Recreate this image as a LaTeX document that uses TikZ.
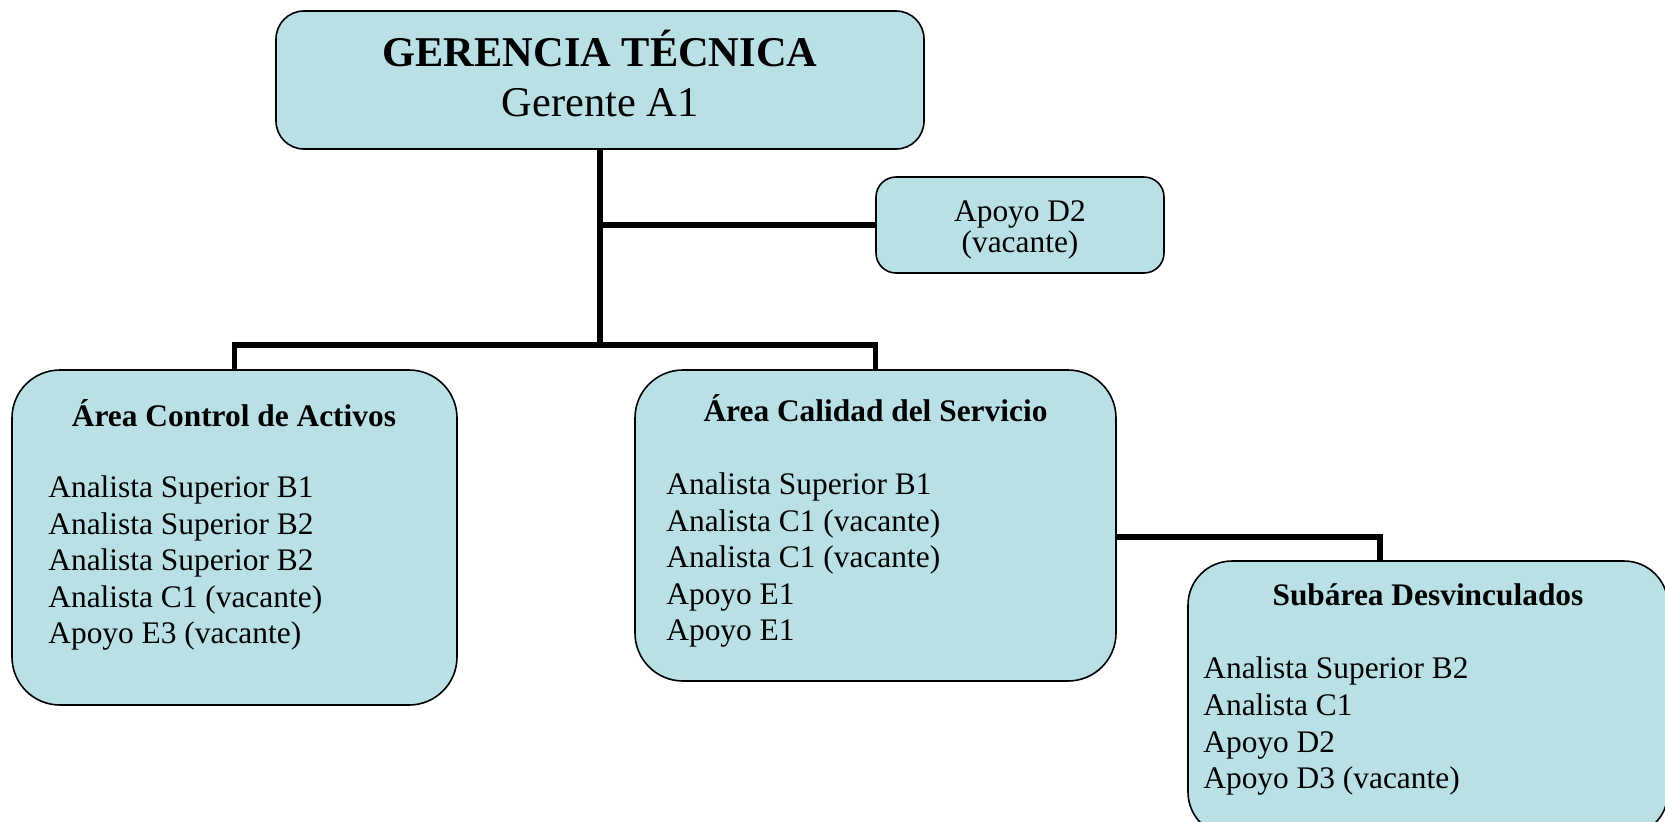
\documentclass[tikz,border=0pt]{standalone}
\usepackage{fontspec}
\setmainfont{Liberation Serif}
\usetikzlibrary{calc}
\definecolor{boxfill}{RGB}{185,224,228}
\begin{document}
\begin{tikzpicture}[x=0.5pt,y=-0.5pt,
  box/.style={draw=black, line width=0.8pt, fill=boxfill, rounded corners=#1, inner sep=0pt, rectangle},
  conn/.style={line width=2.85pt, line join=miter, draw=black},
  body/.style={font=\fontsize{15.7}{18}\selectfont, inner sep=0pt},
  head/.style={font=\fontsize{15.7}{18}\selectfont\bfseries, inner sep=0pt, anchor=base},
  line/.style={body, anchor=base west},
  big/.style={font=\fontsize{21.2}{25}\selectfont, inner sep=0pt, anchor=base}]
\useasboundingbox (0,0) rectangle (1665,821);

% boxes
\node[box=14pt, minimum width=324pt, minimum height=69pt] (top) at (600,80) {};
\node[box=10pt, minimum width=144pt, minimum height=48pt] (d2) at (1020,225) {};
\node[box=24pt, minimum width=222.5pt, minimum height=167.5pt] (left) at (234.5,537.5) {};
\node[box=24pt, minimum width=240.5pt, minimum height=155.5pt] (mid) at (875.5,525.5) {};
\node[box=22pt, minimum width=240pt, minimum height=137.5pt] (sub) at (1428,698.5) {};

% connectors
\coordinate (j1) at (600,345);
\coordinate (m2) at (1116,537);
\coordinate (s2) at (1380,561);
\draw[conn] (top.south) -- (j1);
\draw[conn] (top.south |- d2.west) -- (d2.west);
\draw[conn] (left.north) |- (j1) -| (mid.north);
\draw[conn] (m2) -| (s2);

% top box text
\node[big, font=\fontsize{21.2}{25}\selectfont\bfseries] (t1) at (600,66) {GERENCIA TÉCNICA};
\node[big] (t2) at (600,116) {Gerente A1};

% apoyo D2
\node[body, anchor=base] (d2a) at (1020,221) {Apoyo D2};
\node[body, anchor=base] (d2b) at (1020,252) {(vacante)};

% left box
\node[head] (lh) at (234,426) {Área Control de Activos};
\node[line] (l1) at (48,497) {Analista Superior B1};
\node[line] (l2) at (48,534) {Analista Superior B2};
\node[line] (l3) at (48,570) {Analista Superior B2};
\node[line] (l4) at (48,607) {Analista C1 (vacante)};
\node[line] (l5) at (48,643) {Apoyo E3 (vacante)};

% middle box
\node[head] (mh) at (875.5,421) {Área Calidad del Servicio};
\node[line] (m1) at (666,494) {Analista Superior B1};
\node[line] (m2t) at (666,531) {Analista C1 (vacante)};
\node[line] (m3) at (666,567) {Analista C1 (vacante)};
\node[line] (m4) at (666,604) {Apoyo E1};
\node[line] (m5) at (666,640) {Apoyo E1};

% subarea box
\node[head] (sh) at (1428,605) {Subárea Desvinculados};
\node[line] (s1) at (1203,678) {Analista Superior B2};
\node[line] (s2t) at (1203,715) {Analista C1};
\node[line] (s3) at (1203,752) {Apoyo D2};
\node[line] (s4) at (1203,788) {Apoyo D3 (vacante)};
\end{tikzpicture}
\end{document}
